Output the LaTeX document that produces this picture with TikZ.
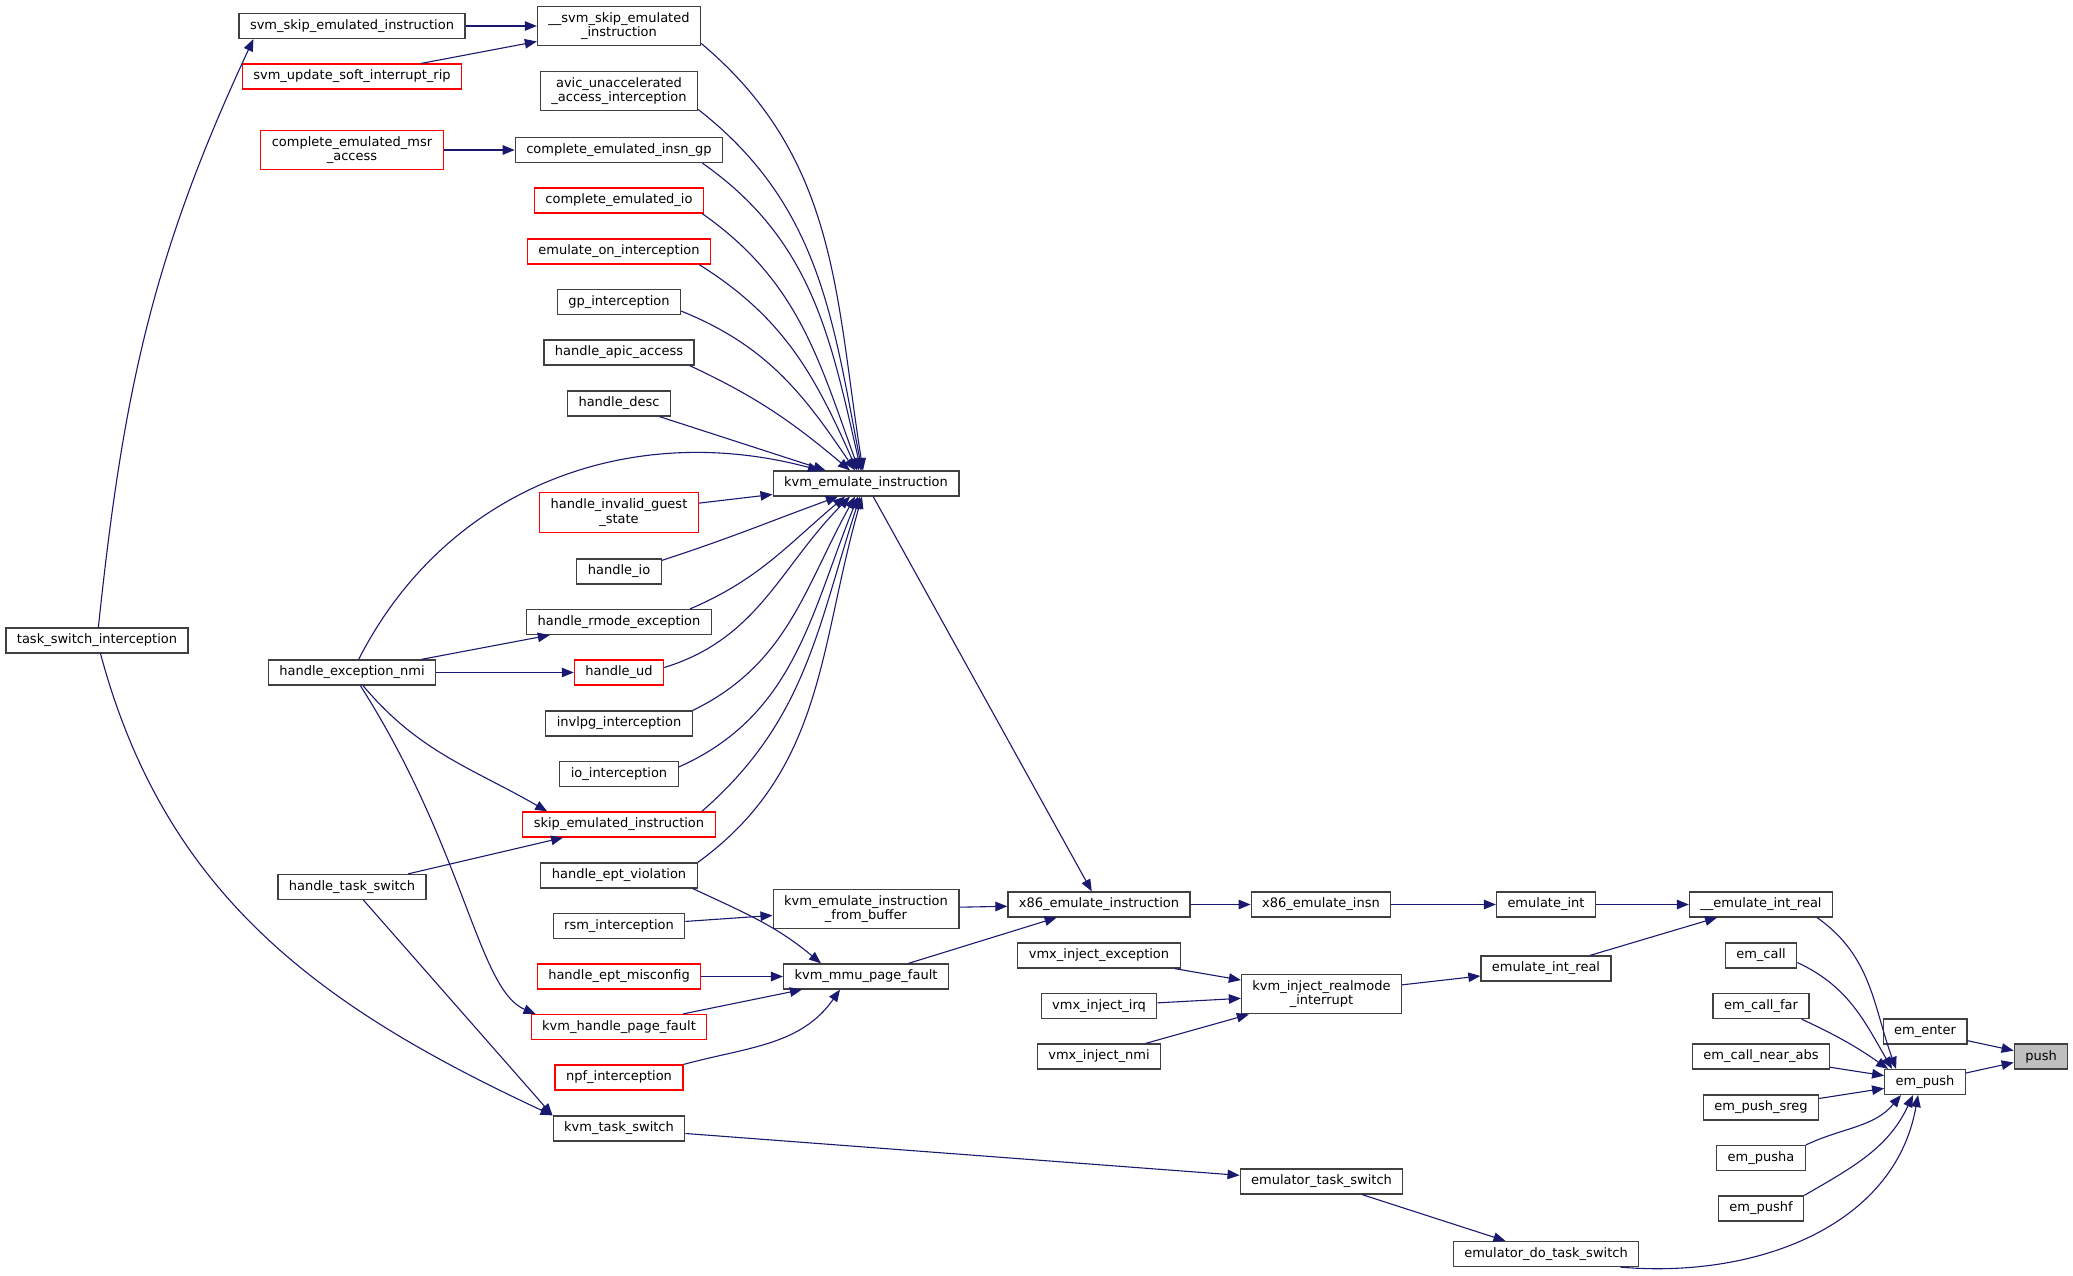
\documentclass[tikz,border=0pt]{standalone}
\usepackage{fontspec}
\setmainfont{DejaVu Sans}
\usepackage{tikz}
\usetikzlibrary{arrows.meta}
\definecolor{edgeblue}{HTML}{191970}
\tikzset{func/.style={rectangle,draw=black!75,line width=1.2pt,fill=white,align=center,font=\fontsize{13}{14.7}\selectfont,minimum height=25pt,inner xsep=11pt,inner ysep=6pt},
         funcred/.style={func,draw=red},
         focusfunc/.style={func,fill=black!25},
         call/.style={-{Triangle[length=12pt,width=9.5pt]},draw=edgeblue,line width=1.1pt}}

\begin{document}
\begin{tikzpicture}[x=1pt,y=1pt]
    \useasboundingbox (0,0) rectangle (2073,-1276);
    \node (tsi) [func] at (97,-640.5) {task\_switch\_interception};
    \node (svmskip) [func] at (352,-26) {svm\_skip\_emulated\_instruction};
    \node (svmupd) [funcred] at (352,-76.5) {svm\_update\_soft\_interrupt\_rip};
    \node (cemsr) [funcred] at (352,-150) {complete\_emulated\_msr\\\_access};
    \node (hexnmi) [func] at (352,-672.5) {handle\_exception\_nmi};
    \node (htsw) [func] at (352,-887) {handle\_task\_switch};
    \node (svmskipi) [func] at (619,-26) {\_\_svm\_skip\_emulated\\\_instruction};
    \node (avic) [func] at (619,-91) {avic\_unaccelerated\\\_access\_interception};
    \node (cegp) [func] at (619,-150) {complete\_emulated\_insn\_gp};
    \node (ceio) [funcred] at (619,-200.5) {complete\_emulated\_io};
    \node (emuint) [funcred] at (619,-251.5) {emulate\_on\_interception};
    \node (gpint) [func] at (619,-302) {gp\_interception};
    \node (hapic) [func] at (619,-352.5) {handle\_apic\_access};
    \node (hdesc) [func] at (619,-403.5) {handle\_desc};
    \node (hinv) [funcred] at (619,-512.5) {handle\_invalid\_guest\\\_state};
    \node (hio) [func] at (619,-571.5) {handle\_io};
    \node (hrmode) [func] at (619,-622) {handle\_rmode\_exception};
    \node (hud) [funcred] at (619,-672.5) {handle\_ud};
    \node (invlpg) [func] at (619,-723.5) {invlpg\_interception};
    \node (ioint) [func] at (619,-774) {io\_interception};
    \node (skip) [funcred] at (619,-824.5) {skip\_emulated\_instruction};
    \node (heptv) [func] at (619,-875.5) {handle\_ept\_violation};
    \node (rsm) [func] at (619,-926) {rsm\_interception};
    \node (heptm) [funcred] at (619,-976.5) {handle\_ept\_misconfig};
    \node (khpf) [funcred] at (619,-1027) {kvm\_handle\_page\_fault};
    \node (npf) [funcred] at (619,-1077.5) {npf\_interception};
    \node (kts) [func] at (619,-1128.5) {kvm\_task\_switch};
    \node (ke) [func] at (866,-483.5) {kvm\_emulate\_instruction};
    \node (kebuf) [func] at (866,-909) {kvm\_emulate\_instruction\\\_from\_buffer};
    \node (kmmu) [func] at (866,-976.5) {kvm\_mmu\_page\_fault};
    \node (x86) [func] at (1099,-904.5) {x86\_emulate\_instruction};
    \node (vmxexc) [func] at (1099,-955.5) {vmx\_inject\_exception};
    \node (vmxirq) [func] at (1099,-1006) {vmx\_inject\_irq};
    \node (vmxnmi) [func] at (1099,-1056.5) {vmx\_inject\_nmi};
    \node (x86insn) [func] at (1321,-904.5) {x86\_emulate\_insn};
    \node (kinj) [func] at (1321.5,-994) {kvm\_inject\_realmode\\\_interrupt};
    \node (ets) [func] at (1321.5,-1181.5) {emulator\_task\_switch};
    \node (emint) [func] at (1546,-904.5) {emulate\_int};
    \node (eireal) [func] at (1546,-968.5) {emulate\_int\_real};
    \node (edts) [func] at (1546,-1254) {emulator\_do\_task\_switch};
    \node (eirealu) [func] at (1761,-904.5) {\_\_emulate\_int\_real};
    \node (emcall) [func] at (1761,-955.5) {em\_call};
    \node (emcallfar) [func] at (1761,-1006) {em\_call\_far};
    \node (emcallnear) [func] at (1761,-1056.5) {em\_call\_near\_abs};
    \node (empushsreg) [func] at (1761,-1107.5) {em\_push\_sreg};
    \node (empusha) [func] at (1761,-1158) {em\_pusha};
    \node (empushf) [func] at (1761,-1208.5) {em\_pushf};
    \node (ementer) [func] at (1925,-1031.5) {em\_enter};
    \node (empush) [func] at (1925,-1082) {em\_push};
    \node (push) [focusfunc] at (2041,-1056.5) {push};
    \foreach \i/\j in {svmskip/svmskipi,svmupd/svmskipi,cemsr/cegp,hexnmi/hrmode,hexnmi/hud,htsw/skip,hdesc/ke,hinv/ke,rsm/kebuf,heptm/kmmu,khpf/kmmu,kts/ets,ke/x86,kebuf/x86,kmmu/x86,x86/x86insn,x86insn/emint,emint/eirealu,vmxexc/kinj,vmxirq/kinj,vmxnmi/kinj,kinj/eireal,eireal/eirealu,ets/edts,emcallnear/empush,empushsreg/empush,ementer/push,empush/push} {\draw[call] (\i) -- (\j);}
    \foreach \n/\dx/\dy/\o/\s/\a in {svmskipi/0/3/-40/-3/99,avic/0/2/-38/-4/101,cegp/-21/0/-35/-5/103,ceio/-2/0/-35/-7/110,emuint/-12/0/-32/-9/114,gpint/0/4/-22/-11/124,hapic/-5/0/-25/-16/140} {\draw[call] ([xshift=\dx pt,yshift=\dy pt]\n.south east) to[out=\o,in=\a] ([xshift=\s pt]ke.north);}
    \foreach \n/\an/\dx/\dy/\o/\s/\a in {hio/north east/0/-2/18/-28/-160,hrmode/north east/-22/0/23/-21/-140,hud/east/0/5/17/-16/-135,invlpg/north east/0/0/26/-11/-119,ioint/east/0/7/24/-8/-112,skip/north east/-14/0/41/-6/-108,heptv/north east/0/0/36/-4/-106} {\draw[call] ([xshift=\dx pt,yshift=\dy pt]\n.\an) to[out=\o,in=\a] ([xshift=\s pt]ke.south);}
    \draw[call] (tsi) to[out=84,in=-115] ([xshift=15pt]svmskip.south west);
    \draw[call] (tsi) to[out=-75,in=155] (kts.north west);
    \draw[call] (htsw) -- (kts.north west);
    \draw[call] (hexnmi) to[out=63,in=165] ([xshift=-46pt]ke.north);
    \draw[call] (hexnmi) to[out=-50,in=150] ([xshift=25pt]skip.north west);
    \draw[call] (hexnmi) .. controls (465,-850) and (478,-990) .. ([xshift=5pt]khpf.north west);
    \draw[call] ([xshift=-5pt]heptv.south east) to[out=-25,in=140] ([xshift=-45pt]kmmu.north);
    \draw[call] (npf.north east) to[out=15,in=-125] ([xshift=-26pt]kmmu.south);
    \draw[call] ([xshift=56pt]eirealu.south) to[out=-35,in=110] ([xshift=12pt]empush.north west);
    \draw[call] ([yshift=-7pt]emcall.east) to[out=-25,in=120] ([xshift=8pt]empush.north west);
    \draw[call] ([xshift=-8pt]emcallfar.south east) to[out=-25,in=145] ([xshift=4pt]empush.north west);
    \draw[call] (empusha.north east) to[out=25,in=-130] ([xshift=-24pt]empush.south);
    \draw[call] (empushf.north east) to[out=30,in=-115] ([xshift=-12pt]empush.south);
    \draw[call] ([xshift=-19pt]edts.south east) to[out=-5,in=-100] ([xshift=-7pt]empush.south);
  \end{tikzpicture}
\end{document}
